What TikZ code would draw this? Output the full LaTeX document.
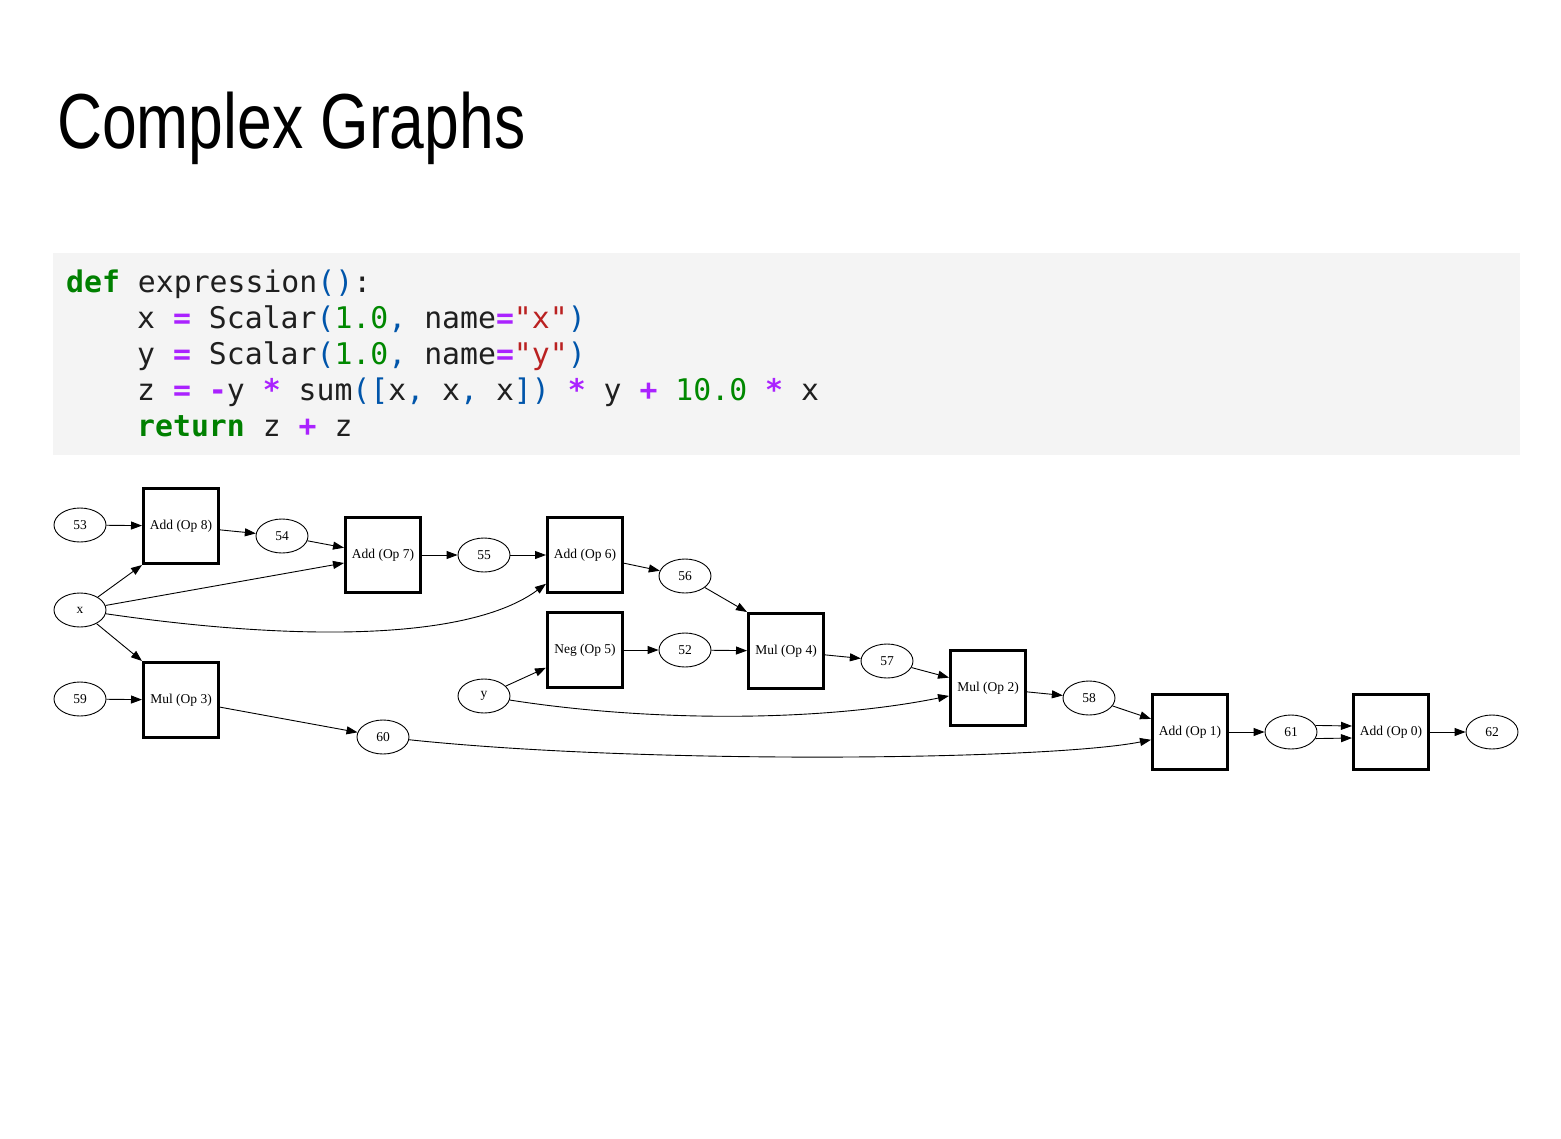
\documentclass[tikz,border=0pt]{standalone}
\usepackage{fontspec}
\setmainfont{Liberation Serif}
\newfontfamily\titlefont[FakeStretch=0.8]{Liberation Sans}
\newfontfamily\codefont{DejaVu Sans Mono}
\usetikzlibrary{shapes.geometric,arrows.meta}
\definecolor{codebg}{HTML}{F4F4F4}
\definecolor{codetext}{HTML}{1F1F1F}
\definecolor{kwgreen}{HTML}{008000}
\definecolor{numgreen}{HTML}{008800}
\definecolor{opviolet}{HTML}{AA22FF}
\definecolor{parenblue}{HTML}{0055AA}
\definecolor{strred}{HTML}{BA2121}
\newcommand{\kw}[1]{\textcolor{kwgreen}{\bfseries #1}}
\newcommand{\cop}[1]{\textcolor{opviolet}{\bfseries #1}}
\newcommand{\num}[1]{\textcolor{numgreen}{#1}}
\newcommand{\pb}[1]{\textcolor{parenblue}{#1}}
\newcommand{\str}[1]{\textcolor{strred}{#1}}
\begin{document}
\begin{tikzpicture}[x=1pt,y=-1pt,
    valnode/.style={ellipse,draw,line width=0.9pt,minimum width=52pt,minimum height=34pt,inner sep=0pt,font=\fontsize{13.5}{16}\selectfont},
    opbox/.style={draw,line width=3pt,minimum size=75pt,inner sep=0pt,font=\fontsize{13.5}{16}\selectfont},
    edge/.style={-{Triangle[length=11pt,width=8pt]},line width=0.9pt},
    codeline/.style={anchor=base west,inner sep=0pt,text=codetext,font=\codefont\fontsize{29.8}{36}\selectfont}]
    \useasboundingbox (0,0) rectangle (1561,1138);
    \node[anchor=base west,inner sep=0pt,font=\titlefont\fontsize{78}{90}\selectfont] (title) at (57,148) {Complex Graphs};
    \fill[codebg] (53,253) rectangle (1520,455);
    \node[codeline] (line1) at (66,292) {\kw{def} expression\pb{()}:};
    \node[codeline] (line2) at (137,328) {x \cop{=} Scalar\pb{(}\num{1.0}\pb{,} name\cop{=}\str{"x"}\pb{)}};
    \node[codeline] (line3) at (137,364) {y \cop{=} Scalar\pb{(}\num{1.0}\pb{,} name\cop{=}\str{"y"}\pb{)}};
    \node[codeline] (line4) at (137,400) {z \cop{=} \cop{-}y \cop{*} sum\pb{([}x\pb{,} x\pb{,} x\pb{])} \cop{*} y \cop{+} \num{10.0} \cop{*} x};
    \node[codeline] (line5) at (137,436) {\kw{return} z \cop{+} z};
    \node[valnode] (v53) at (80,525) {53};
    \node[valnode] (vx) at (80,610) {x};
    \node[valnode] (v59) at (80,699) {59};
    \node[valnode] (v54) at (282,536) {54};
    \node[valnode] (v55) at (484,555) {55};
    \node[valnode] (v56) at (685,576) {56};
    \node[valnode] (v52) at (685,650) {52};
    \node[valnode] (vy) at (484,696) {y};
    \node[valnode] (v60) at (383,737) {60};
    \node[valnode] (v57) at (887,661) {57};
    \node[valnode] (v58) at (1089,698) {58};
    \node[valnode] (v61) at (1291,732) {61};
    \node[valnode] (v62) at (1492,732) {62};
    \node[opbox] (op8) at (181,526) {Add (Op 8)};
    \node[opbox] (op7) at (383,555) {Add (Op 7)};
    \node[opbox] (op6) at (585,555) {Add (Op 6)};
    \node[opbox] (op5) at (585,650) {Neg (Op 5)};
    \node[opbox] (op4) at (786,651) {Mul (Op 4)};
    \node[opbox] (op3) at (181,700) {Mul (Op 3)};
    \node[opbox] (op2) at (988,688) {Mul (Op 2)};
    \node[opbox] (op1) at (1190,732) {Add (Op 1)};
    \node[opbox] (op0) at (1391,732) {Add (Op 0)};
    \draw[edge] (v53) -- (op8);
    \draw[edge] (vx) -- (op8.225);
    \draw[edge] (op8) -- (v54);
    \draw[edge] (vx) -- ([yshift=-8pt]op7.west);
    \draw[edge] (v54) -- (op7);
    \draw[edge] (vx) .. controls (300,642) and (470,640) .. (op6);
    \draw[edge] (op7) -- (v55);
    \draw[edge] (v55) -- (op6);
    \draw[edge] (op6) -- (v56);
    \draw[edge] (v56) -- (op4.135);
    \draw[edge] (vx) -- (op3.135);
    \draw[edge] (v59) -- (op3);
    \draw[edge] (op3) -- (v60);
    \draw[edge] (vy) -- (op5);
    \draw[edge] (op5) -- (v52);
    \draw[edge] (v52) -- (op4);
    \draw[edge] (op4) -- (v57);
    \draw[edge] (v57) -- (op2);
    \draw[edge] (vy) .. controls (650,722) and (820,722) .. (op2);
    \draw[edge] (op2) -- (v58);
    \draw[edge] (v58) -- (op1);
    \draw[edge] (v60) .. controls (650,765) and (1050,760) .. (op1);
    \draw[edge] (op1) -- (v61);
    \draw[edge] (v61.15) -- ([yshift=6pt]op0.west);
    \draw[edge] (v61.-15) -- ([yshift=-6pt]op0.west);
    \draw[edge] (op0) -- (v62);
\end{tikzpicture}
\end{document}
